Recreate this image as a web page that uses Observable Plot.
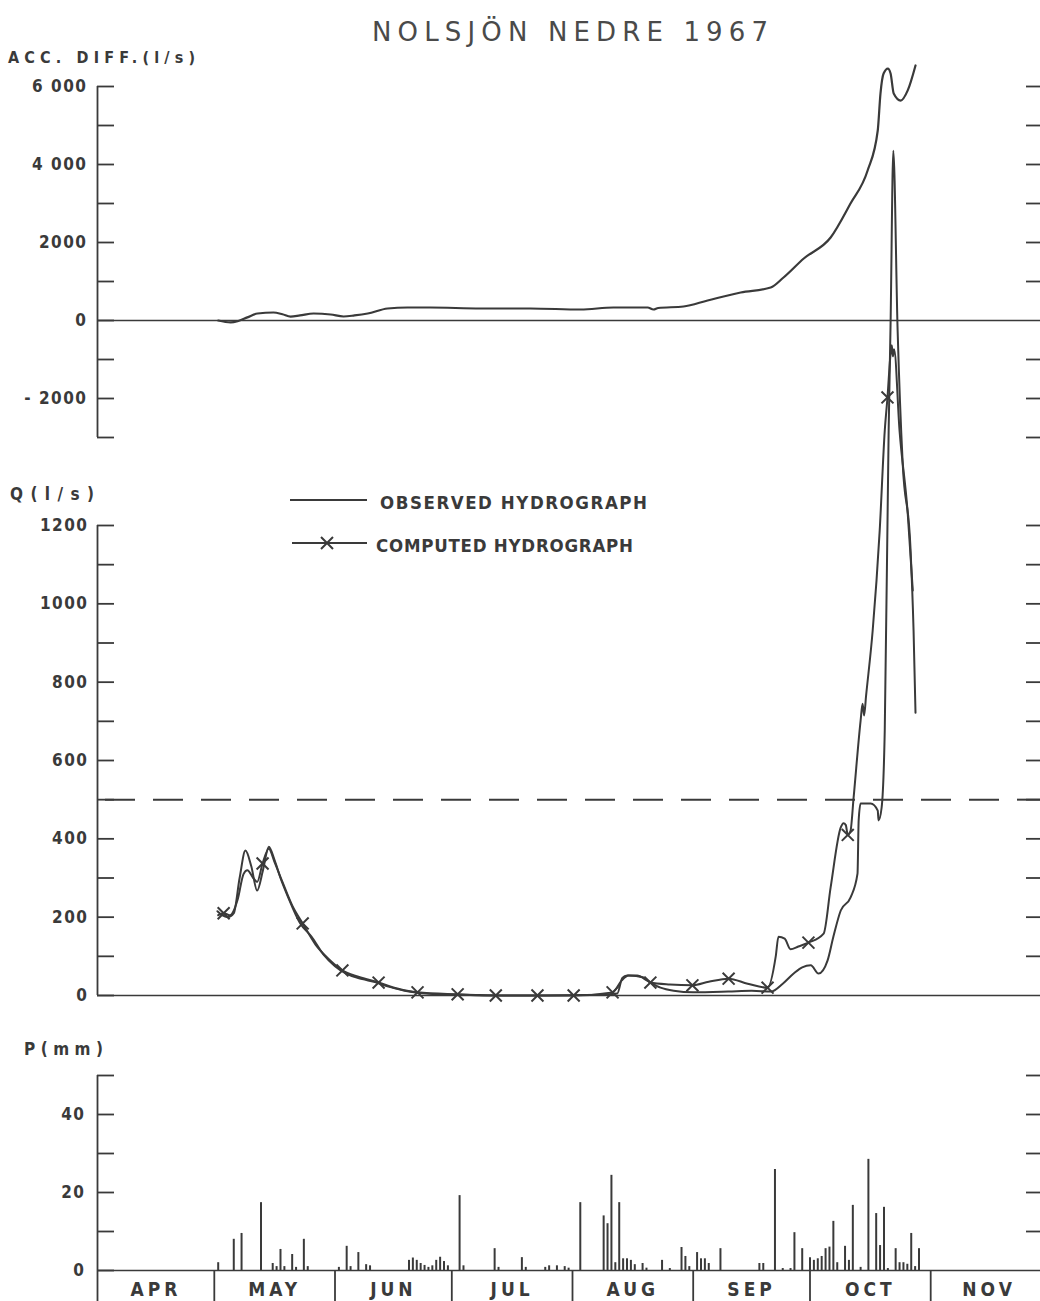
<!DOCTYPE html>
<html><head><meta charset="utf-8">
<script src="https://cdn.jsdelivr.net/npm/d3@7"></script>
<script src="https://cdn.jsdelivr.net/npm/@observablehq/plot@0.6"></script>
<style>
html,body{margin:0;padding:0;background:#fff;overflow:hidden}
#fig{position:relative;width:1040px;height:1301px;background:#fff}
#fig > svg{position:absolute;left:0;top:0}
</style></head><body><div id="fig"></div>
<script>
// ---------------- data ----------------
const title = "NOLSJÖN NEDRE 1967";
const monthNames = ["APR","MAY","JUN","JUL","AUG","SEP","OCT","NOV"];

// time axis: days after 1 April 1967
const accDay = [31,34.2,36,38.5,41.1,45.2,47.5,49.6,52,55.5,59.9,63.2,66,69.4,74.5,79.6,85.5,98.4,111.2,124.1,132.5,141.3,142.8,144,150.5,156.7,165.2,172.9,176.2,181.4,188.3,193.4,197.8,200.4,201.1,201.9,203,203.7,204.5,206.3,208.1,210.1];
const accVal = [0,-50,-20,80,180,205,160,100,130,180,154,103,130,180,308,333,333,308,308,282,333,333,282,320,359,513,718,846,1103,1590,2128,3000,3846,4872,5820,6333,6460,6333,5820,5640,5900,6540];

const obsDay = [30.8,32,33.5,35,36.5,38,39.5,41,42.5,44,45.5,47,49,52,55,58,61,64,68,71,75,80,86,95,105,115,125,131,133.5,134.8,136,138.6,141.2,144.6,148,153,162,168,173,176,178.8,181,183.2,185.2,187.5,189,190.9,193.4,195.2,195.5,196,198.6,200.4,200.6,201.4,202.2,203.2,203.7,204.4,205.5,206.8,208.8,209.6,210.1];
const obsQ   = [215,205,200,210,300,370,330,268,320,380,345,300,250,185,150,105,75,55,42,35,22,10,4,2,0,0,1,3,5,45,51,51,38,20,12,8,10,12,10,30,56,72,77,56,89,150,217,250,311,447,490,490,472,447,480,677,1442,1718,2157,1700,1360,1144,932,722];

const compDay = [31,32.4,34,36,37.5,38.5,40,41,42.4,44,45.5,47.5,50,52.7,56,59.5,62.9,67,72.2,77,82.2,92.5,102.3,113,122.3,132.3,134.6,136.4,140.3,142,147,152.8,157,162.1,167,172.1,174.2,174.9,176.5,178,180,182.6,186.5,188.3,190.9,191.6,192.2,192.7,193.4,194.2,196,196.5,196.9,197.4,199.1,200.9,202.2,202.9,203.7,204,204.3,204.6,206,208.1,209.4];
const compQ   = [205,210,205,245,310,320,300,290,337,375,340,290,230,184,130,92,64,48,33,18,8,3,0,0,0,8,38,51,46,33,28,26,35,43,30,20,100,150,145,118,125,135,158,276,429,440,435,410,420,505,702,745,715,765,932,1187,1442,1527,1639,1660,1632,1650,1442,1231,1034];
const compMarkDay = [32.4,42.4,52.7,62.9,72.2,82.2,92.5,102.3,113,122.3,132.3,142,152.8,162.1,172.1,182.6,192.7,202.9];
const qReference = 500;   // dashed level

const rainDay = [31,35,37,42,45,46,47,48,50,51,53,54,62,64,65,67,69,70,80,81,82,83,84,85,86,87,88,89,90,93,94,102,103,109,110,115,116,118,120,121,124,130,131,132,133,134,135,136,137,138,140,141,145,147,150,151,152,154,155,156,157,160,170,171,174,176,178,179,181,183,184,185,186,187,188,189,190,192,193,194,196,198,200,201,202,203,205,206,207,208,209,210,211];
const rainMm  = [2,8,9.5,17.4,1.8,1,5.4,1,4.1,0.8,8,1,0.8,6.2,1,4.6,1.5,1.2,2.6,3.2,2.6,1.8,1.3,0.8,1.2,2.6,3.4,2.3,1.2,19.2,1.2,5.6,0.8,3.3,0.8,0.8,1.2,1.2,1,0.6,17.4,14,12,24.4,2,17.4,3,3,2.6,1.5,1.8,0.6,2.6,0.5,5.9,3.6,1,4.6,3,3,1.8,5.6,1.8,1.8,25.9,0.5,0.5,9.7,5.6,3.3,2.6,3,3.6,5.6,6,12.6,2,6.2,2.6,16.7,0.8,28.5,14.6,6.4,16.2,0.5,5.6,2,2,1.6,9.5,1,5.6];

// axes
const accDomain = [-3000, 6000];
const accTicks = [-2000, 0, 2000, 4000, 6000];
const accTickLabels = ["- 2000", "0", "2000", "4 000", "6 000"];
const accMinor = d3.range(-3000, 6001, 1000);
const qDomain = [0, 1200];
const qTicks = [0, 200, 400, 600, 800, 1000, 1200];
const qTickLabels = ["0", "200", "400", "600", "800", "1000", "1200"];
const qMinor = d3.range(0, 1201, 100);
const pDomain = [0, 50];
const pTicks = [0, 20, 40];
const pTickLabels = ["0", "20", "40"];
const pMinor = d3.range(0, 51, 10);

// ---------------- build ----------------
const START = Date.UTC(1967, 3, 1);
const day = d => new Date(START + d * 864e5);
const monthStarts = d3.range(3, 12).map(m => new Date(Date.UTC(1967, m, 1)));
const xDomain = [monthStarts[0], monthStarts[monthStarts.length - 1]];
const monthMids = monthNames.map((_, i) => new Date((+monthStarts[i] + +monthStarts[i + 1]) / 2));

const accRows = accDay.map((d, i) => ({date: day(d), v: accVal[i]}));
const obsRows = obsDay.map((d, i) => ({date: day(d), q: obsQ[i]}));
const compRows = compDay.map((d, i) => ({date: day(d), q: compQ[i], mark: compMarkDay.includes(d)}));
const rainRows = rainDay.map((d, i) => ({date: day(d), mm: rainMm[i]}));

const W = 1040, H = 1301;
const ink = "#3a3a3a";
const FONT = "'DejaVu Sans Condensed','DejaVu Sans',sans-serif";
const baseStyle = {background: "transparent", overflow: "visible", color: ink, fontFamily: FONT,
  fontSize: "17px", fontWeight: "bold", letterSpacing: "1.5px"};
const xScale = {type: "utc", domain: xDomain, range: [97, 1047], label: null};

function yAxes(minor, ticks, labels, pad) {
  return [
    Plot.axisY({anchor: "left", ticks: minor, tickSize: -17, tickFormat: () => "", strokeWidth: 1.8, label: null}),
    Plot.axisY({anchor: "left", ticks, tickSize: 0, tickPadding: pad, tickFormat: d => labels[ticks.indexOf(d)], label: null}),
    Plot.axisY({anchor: "right", ticks: minor.filter(v => v !== 0), tickSize: -15, tickFormat: () => "", strokeWidth: 1.8, label: null})
  ];
}

// Panel 1 : accumulated difference
const accPlot = Plot.plot({
  width: W, height: H, marginLeft: 97, marginRight: 0, marginTop: 86, marginBottom: H - 437,
  style: baseStyle,
  x: {...xScale, axis: null},
  y: {domain: accDomain, label: null},
  marks: [
    Plot.ruleX([xDomain[0]], {y1: accDomain[0], y2: accDomain[1], stroke: ink, strokeWidth: 1.8}),
    Plot.ruleY([0], {stroke: ink, strokeWidth: 1.6}),
    ...yAxes(accMinor, accTicks, accTickLabels, 10),
    Plot.line(accRows, {x: "date", y: "v", curve: "monotone-x", stroke: ink, strokeWidth: 2.2})
  ]
});

// Panel 2 : discharge
const qPlot = Plot.plot({
  width: W, height: H, marginLeft: 97, marginRight: 0, marginTop: 525, marginBottom: H - 995,
  style: baseStyle,
  x: {...xScale, axis: null},
  y: {domain: qDomain, label: null},
  marks: [
    Plot.ruleX([xDomain[0]], {y1: qDomain[0], y2: qDomain[1], stroke: ink, strokeWidth: 1.8}),
    Plot.ruleY([0], {stroke: ink, strokeWidth: 1.6}),
    Plot.ruleY([qReference], {stroke: ink, strokeWidth: 2, strokeDasharray: "30,18", strokeDashoffset: -8}),
    ...yAxes(qMinor, qTicks, qTickLabels, 9),
    Plot.line(obsRows, {x: "date", y: "q", curve: "monotone-x", stroke: ink, strokeWidth: 2}),
    Plot.line(compRows, {x: "date", y: "q", curve: "monotone-x", stroke: ink, strokeWidth: 2}),
    Plot.dot(compRows.filter(r => r.mark), {x: "date", y: "q", symbol: "times", r: 5.5, stroke: ink, strokeWidth: 2})
  ]
});

// Panel 3 : precipitation
const pPlot = Plot.plot({
  width: W, height: H, marginLeft: 97, marginRight: 0, marginTop: 1075, marginBottom: H - 1270,
  style: baseStyle,
  x: xScale,
  y: {domain: pDomain, label: null},
  marks: [
    Plot.ruleX([xDomain[0]], {y1: pDomain[0], y2: pDomain[1], stroke: ink, strokeWidth: 1.8}),
    Plot.ruleY([0], {stroke: ink, strokeWidth: 1.6}),
    ...yAxes(pMinor, pTicks, pTickLabels, 12),
    Plot.ruleX(rainRows, {x: "date", y1: 0, y2: "mm", stroke: ink, strokeWidth: 2}),
    Plot.axisX({anchor: "bottom", ticks: monthStarts.slice(0, -1), tickSize: 31, tickFormat: () => "", strokeWidth: 1.8, label: null}),
    Plot.axisX({anchor: "bottom", ticks: monthMids, tickSize: 0, tickPadding: 12, fontSize: 19,
      tickFormat: d => monthNames[monthMids.findIndex(m => +m === +d)], label: null})
  ]
});

const fig = document.getElementById("fig");
fig.append(accPlot, qPlot, pPlot);
d3.select(pPlot).selectAll("g[aria-label='x-axis tick label'] text").style("letter-spacing", "4px");

// ---------------- titles, axis titles, legend ----------------
const ov = d3.select(fig).append("svg").attr("width", W).attr("height", H)
  .style("font-family", FONT).style("fill", ink).style("color", ink);
function txt(s, x, y, size, weight, len) {
  const t = ov.append("text").attr("x", x).attr("y", y).attr("font-size", size)
    .attr("font-weight", weight).attr("fill", ink).text(s);
  if (len) t.attr("textLength", len).attr("lengthAdjust", "spacing");
  return t;
}
txt(title, 372, 41, 26, "normal", 396).attr("font-family", "'DejaVu Sans',sans-serif").attr("fill", "#4a4a4a");
txt("ACC. DIFF.(l/s)", 8, 63, 16, "bold", 187);
txt("Q(l/s)", 10, 500, 17, "bold", 84);
txt("P(mm)", 24, 1055, 17, "bold", 79);
// legend
ov.append("line").attr("x1", 290).attr("x2", 367).attr("y1", 500).attr("y2", 500).attr("stroke", ink).attr("stroke-width", 2);
txt("OBSERVED HYDROGRAPH", 380, 509, 18.5, "bold", 267);
ov.append("line").attr("x1", 292).attr("x2", 367).attr("y1", 543).attr("y2", 543).attr("stroke", ink).attr("stroke-width", 2);
ov.append("path").attr("d", "M321,537L333,549M333,537L321,549").attr("stroke", ink).attr("stroke-width", 2);
txt("COMPUTED HYDROGRAPH", 376, 552, 18.5, "bold", 257);
</script></body></html>
